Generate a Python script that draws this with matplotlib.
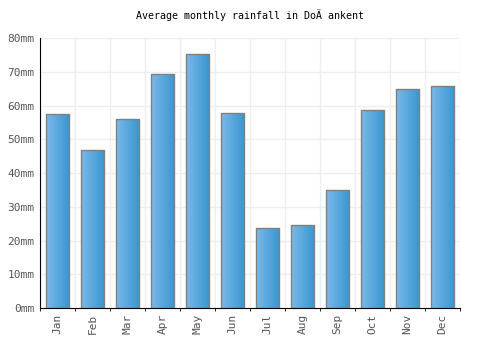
import numpy as np
import matplotlib
matplotlib.use("Agg")
import matplotlib.pyplot as plt
from matplotlib.colors import LinearSegmentedColormap

months = ["Jan", "Feb", "Mar", "Apr", "May", "Jun", "Jul", "Aug", "Sep", "Oct", "Nov", "Dec"]
rainfall = [57.5, 46.8, 56.0, 69.3, 75.3, 57.8, 23.7, 24.6, 35.0, 58.7, 64.9, 65.8]
yticks = [0, 10, 20, 30, 40, 50, 60, 70, 80]
title = "Average monthly rainfall in Do\u00c4 ankent"

plt.rcParams["font.family"] = "DejaVu Sans Mono"

fig = plt.figure(figsize=(5, 3.5), dpi=100)
ax = fig.add_axes([0.08, 0.12, 0.84, 0.771])

x = np.arange(len(months))
width = 0.68
cmap = LinearSegmentedColormap.from_list("bar", ["#7bb9e9", "#3896cf"])
grad = np.linspace(0, 1, 64).reshape(1, -1)

bars = ax.bar(x, rainfall, width=width, color="none", edgecolor="#808080", linewidth=1, zorder=3)
for b in bars:
    x0, y0 = b.get_x(), b.get_y()
    im = ax.imshow(grad, cmap=cmap, aspect="auto", extent=[x0, x0 + b.get_width(), y0, y0 + b.get_height()],
                   zorder=2, interpolation="bilinear")
    im.set_clip_path(b)

ax.set_xlim(-0.5, len(months) - 0.5)
ax.set_ylim(0, 80)
ax.set_xticks(x)
ax.set_xticklabels(months, rotation=90, fontsize=8, color="#555555")
ax.set_yticks(yticks)
ax.set_yticklabels([f"{v}mm" for v in yticks], fontsize=8, color="#555555")
ax.tick_params(length=0, pad=4)

ax.set_xticks(np.arange(-0.5, len(months), 1), minor=True)
ax.grid(True, which="minor", axis="x", color="#eeeeee", linewidth=1, zorder=0)
ax.grid(True, which="major", axis="y", color="#eeeeee", linewidth=1, zorder=0)
ax.set_axisbelow(True)

for s in ["top", "right"]:
    ax.spines[s].set_visible(False)
ax.spines["left"].set_color("black")
ax.spines["bottom"].set_color("black")

ax.set_title(title, fontsize=7.2, color="black", pad=14)

fig.savefig("out.png", dpi=100)
